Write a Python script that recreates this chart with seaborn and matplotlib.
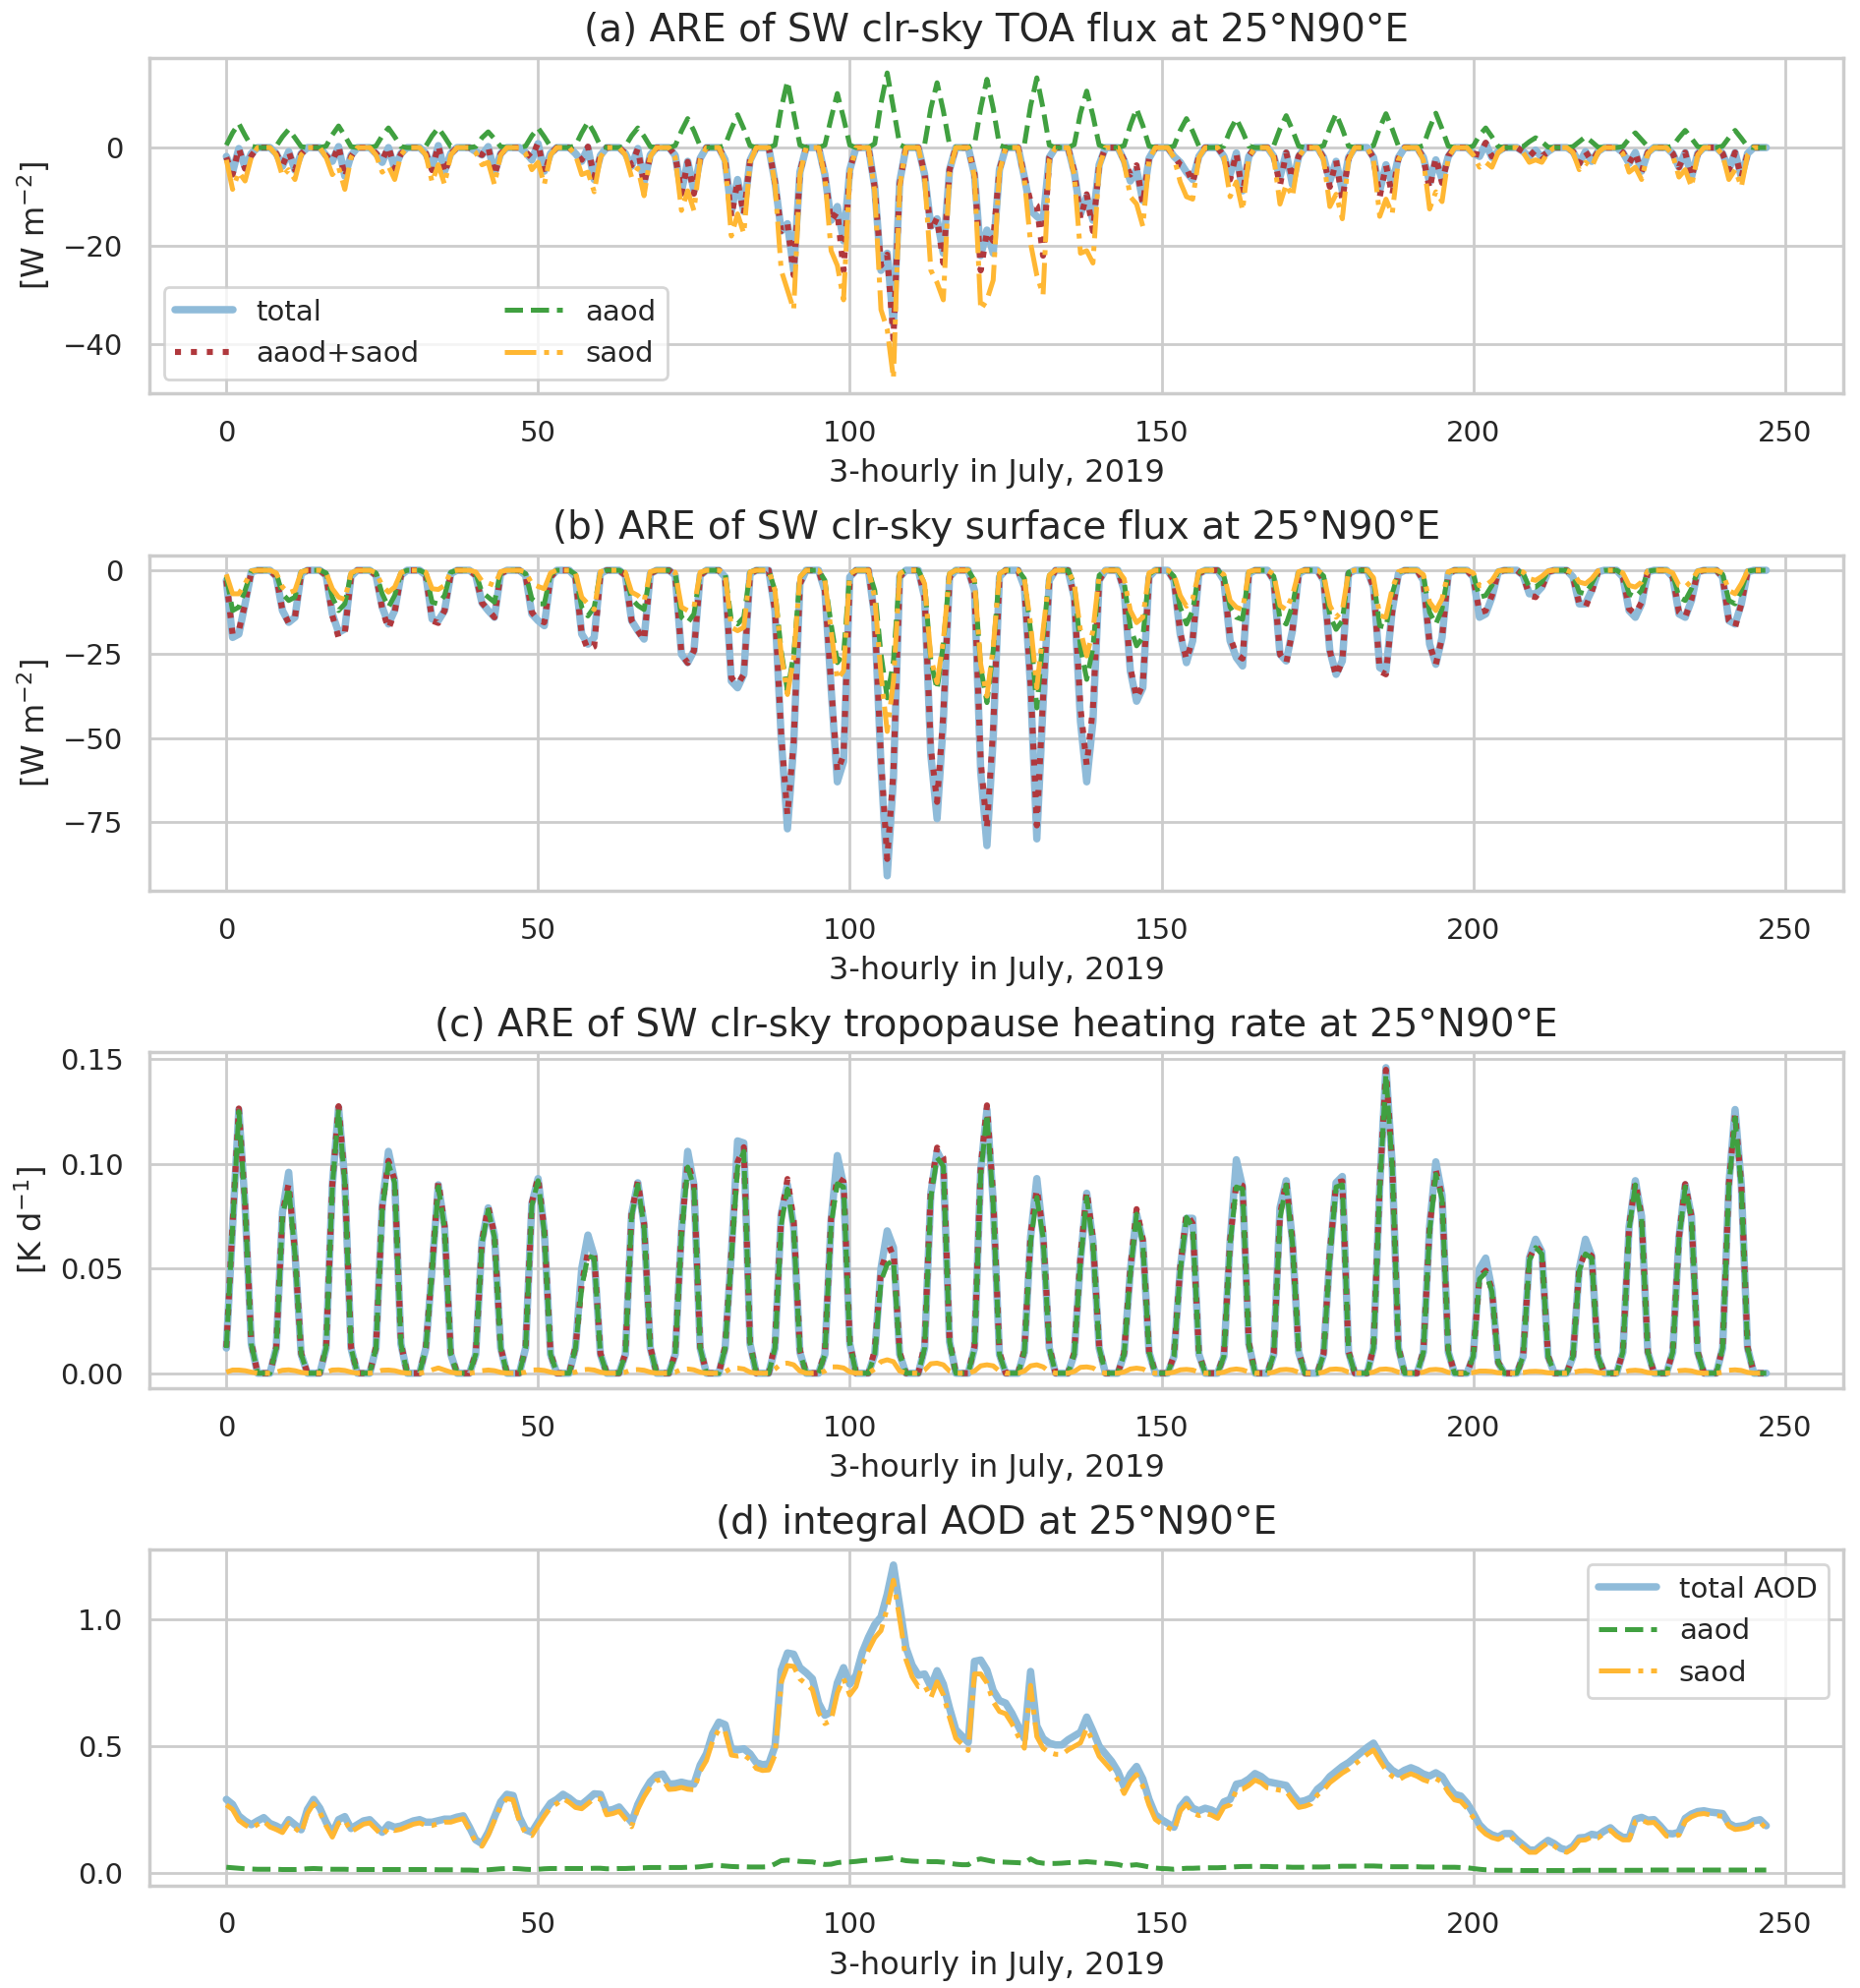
"""
Aerosol radiative effect (ARE) time series at 25N 90E, July 2019, 3-hourly
"""
import numpy as np
import matplotlib
matplotlib.use('Agg')
import matplotlib.pyplot as plt
import seaborn as sns

sns.set_theme(style='whitegrid')
plt.rcParams['font.family'] = ['DejaVu Sans']

# 3-hourly steps (31 days x 8)
hours = np.arange(248)

# ---- (a) TOA flux, W m-2, one row per day ----
toa_total = np.array([
    [-1.8, -5.0, -0.2, -4.0, -1.2, 0, 0, 0],
    [-1.2, -3.8, -0.8, -4.6, -1.2, 0, 0, 0],
    [-1.6, -2.8, 0.2, -5.8, -1.6, 0, 0, 0],
    [-1.2, -3.0, 0.0, -4.2, -1.2, 0, 0, 0],
    [-1.2, -4.2, 0.4, -4.8, -1.2, 0, 0, 0],
    [-0.8, -1.5, 0.2, -5.2, -1.2, 0, 0, 0],
    [-1.0, -2.5, 0.8, -4.8, -1.2, 0, 0, 0],
    [-1.2, -2.8, 0.0, -6.5, -1.6, 0, 0, 0],
    [-1.2, -3.8, -0.2, -7.0, -1.5, 0, 0, 0],
    [-1.6, -9.0, -2.8, -8.8, -2.2, 0, 0, 0],
    [-2.5, -13.0, -6.5, -13.0, -2.6, 0, 0, 0],
    [-7.0, -17.0, -15.5, -25.0, -5.0, 0, 0, 0],
    [-5.5, -14.8, -12.0, -19.0, -4.5, 0, 0, 0],
    [-8.0, -25.0, -21.5, -36.0, -7.0, 0, 0, 0],
    [-5.5, -16.0, -14.5, -21.5, -4.5, 0, 0, 0],
    [-5.5, -22.0, -16.8, -21.5, -4.5, 0, 0, 0],
    [-6.0, -12.8, -14.0, -15.0, -2.0, 0, 0, 0],
    [-5.0, -13.5, -10.0, -14.8, -3.5, 0, 0, 0],
    [-2.6, -6.8, -4.5, -10.8, -2.2, 0, 0, 0],
    [-1.8, -3.0, -5.0, -6.5, -1.8, 0, 0, 0],
    [-1.8, -5.5, -1.1, -8.8, -1.8, 0, 0, 0],
    [-1.8, -6.0, -1.1, -7.5, -1.8, 0, 0, 0],
    [-2.0, -6.8, -2.8, -8.8, -2.0, 0, 0, 0],
    [-2.0, -8.8, -3.5, -7.5, -2.0, 0, 0, 0],
    [-2.0, -7.0, -2.5, -6.5, -1.8, 0, 0, 0],
    [-1.2, -1.8, 0.8, -2.0, -0.8, 0, 0, 0],
    [-0.8, -1.8, -0.5, -2.0, -0.8, 0, 0, 0],
    [-0.8, -3.2, -0.8, -2.8, -0.8, 0, 0, 0],
    [-1.0, -3.2, -1.0, -4.8, -1.0, 0, 0, 0],
    [-1.2, -4.0, -1.0, -6.0, -1.2, 0, 0, 0],
    [-1.2, -4.5, -1.0, -6.0, -1.2, 0, 0, 0],
]).ravel()

toa_aaod = np.array([
    [0.5, 3.0, 4.9, 2.5, 0.3, 0, 0, 0],
    [0.3, 2.2, 3.7, 2.0, 0.2, 0, 0, 0],
    [0.3, 2.6, 4.4, 2.4, 0.2, 0, 0, 0],
    [0.3, 2.4, 4.0, 2.2, 0.2, 0, 0, 0],
    [0.3, 2.4, 4.0, 2.2, 0.2, 0, 0, 0],
    [0.2, 2.0, 3.2, 1.8, 0.2, 0, 0, 0],
    [0.3, 2.4, 4.0, 2.2, 0.2, 0, 0, 0],
    [0.4, 3.0, 5.2, 3.0, 0.3, 0, 0, 0],
    [0.3, 2.4, 4.0, 2.3, 0.2, 0, 0, 0],
    [0.4, 3.4, 5.9, 3.4, 0.3, 0, 0, 0],
    [0.5, 3.8, 6.7, 3.8, 0.4, 0, 0, 0],
    [0.5, 8.0, 13.5, 7.0, 0.5, 0, 0, 0],
    [0.5, 6.0, 11.0, 6.0, 0.5, 0, 0, 0],
    [0.8, 9.0, 15.2, 8.0, 0.6, 0, 0, 0],
    [0.6, 8.0, 13.2, 7.5, 0.5, 0, 0, 0],
    [0.6, 8.0, 13.9, 8.0, 0.5, 0, 0, 0],
    [0.6, 8.5, 14.2, 8.0, 0.5, 0, 0, 0],
    [0.6, 7.0, 11.5, 6.5, 0.5, 0, 0, 0],
    [0.4, 4.5, 7.9, 4.5, 0.3, 0, 0, 0],
    [0.3, 3.5, 5.9, 3.3, 0.3, 0, 0, 0],
    [0.3, 3.5, 5.9, 3.3, 0.3, 0, 0, 0],
    [0.4, 3.8, 6.5, 3.6, 0.3, 0, 0, 0],
    [0.4, 4.0, 6.9, 3.8, 0.3, 0, 0, 0],
    [0.4, 4.0, 6.9, 3.8, 0.3, 0, 0, 0],
    [0.4, 4.0, 7.0, 3.8, 0.3, 0, 0, 0],
    [0.3, 2.5, 4.0, 2.2, 0.2, 0, 0, 0],
    [0.2, 1.2, 2.0, 1.2, 0.1, 0, 0, 0],
    [0.2, 1.2, 2.2, 1.2, 0.1, 0, 0, 0],
    [0.2, 1.8, 3.0, 1.6, 0.2, 0, 0, 0],
    [0.3, 2.0, 3.5, 1.9, 0.2, 0, 0, 0],
    [0.3, 2.0, 3.5, 1.9, 0.2, 0, 0, 0],
]).ravel()

toa_saod = np.array([
    [-2.5, -8.5, -5.0, -6.8, -2.0, 0, 0, 0],
    [-1.5, -5.8, -4.5, -6.5, -1.5, 0, 0, 0],
    [-2.0, -5.5, -4.0, -8.5, -2.0, 0, 0, 0],
    [-1.5, -5.0, -3.8, -6.5, -1.5, 0, 0, 0],
    [-1.5, -7.0, -3.5, -7.5, -1.5, 0, 0, 0],
    [-1.0, -3.5, -3.0, -7.5, -1.5, 0, 0, 0],
    [-1.2, -4.5, -3.0, -7.5, -1.5, 0, 0, 0],
    [-1.5, -5.5, -5.0, -9.0, -2.0, 0, 0, 0],
    [-1.5, -6.0, -4.2, -9.8, -1.8, 0, 0, 0],
    [-2.0, -12.8, -8.8, -12.8, -2.5, 0, 0, 0],
    [-3.0, -18.0, -13.5, -17.5, -3.0, 0, 0, 0],
    [-7.5, -25.0, -29.0, -33.0, -5.5, 0, 0, 0],
    [-6.0, -21.0, -24.0, -31.0, -5.0, 0, 0, 0],
    [-9.0, -33.0, -37.0, -47.0, -8.0, 0, 0, 0],
    [-6.0, -25.0, -27.5, -31.0, -5.0, 0, 0, 0],
    [-6.0, -33.0, -31.0, -27.0, -5.0, 0, 0, 0],
    [-6.5, -19.5, -26.0, -30.0, -2.5, 0, 0, 0],
    [-5.5, -21.5, -21.0, -23.5, -4.0, 0, 0, 0],
    [-3.0, -10.0, -11.5, -16.0, -2.5, 0, 0, 0],
    [-2.0, -7.0, -10.0, -10.5, -2.0, 0, 0, 0],
    [-2.0, -10.0, -7.0, -12.8, -2.0, 0, 0, 0],
    [-2.0, -11.5, -7.5, -10.0, -2.0, 0, 0, 0],
    [-2.5, -12.0, -9.5, -14.5, -2.5, 0, 0, 0],
    [-2.5, -14.0, -10.5, -13.5, -2.5, 0, 0, 0],
    [-2.5, -12.5, -9.0, -11.0, -2.0, 0, 0, 0],
    [-1.5, -4.0, -3.0, -4.0, -1.0, 0, 0, 0],
    [-1.0, -3.0, -2.5, -3.0, -1.0, 0, 0, 0],
    [-1.0, -4.5, -3.0, -4.0, -1.0, 0, 0, 0],
    [-1.2, -5.0, -4.0, -6.5, -1.2, 0, 0, 0],
    [-1.5, -6.0, -4.5, -8.0, -1.5, 0, 0, 0],
    [-1.5, -6.5, -4.5, -8.0, -1.5, 0, 0, 0],
]).ravel()

# ---- (b) surface flux, W m-2 ----
sfc_total = np.array([
    [-3.0, -20.0, -19.0, -10.0, -0.5, 0, 0, 0],
    [-1.8, -12.0, -15.5, -14.0, -1.0, 0, 0, 0],
    [-1.5, -13.0, -18.5, -17.5, -1.8, 0, 0, 0],
    [-1.5, -11.0, -16.0, -12.0, -1.5, 0, 0, 0],
    [-1.5, -14.5, -15.0, -12.0, -1.0, 0, 0, 0],
    [-1.5, -9.7, -12.0, -14.0, -1.0, 0, 0, 0],
    [-1.5, -13.0, -15.0, -16.5, -2.0, 0, 0, 0],
    [-2.0, -19.0, -22.0, -20.0, -1.0, 0, 0, 0],
    [-1.5, -15.0, -18.0, -20.5, -1.0, 0, 0, 0],
    [-1.5, -25.0, -27.5, -24.0, -1.5, 0, 0, 0],
    [-2.0, -33.0, -35.0, -31.0, -1.0, 0, 0, 0],
    [-12.0, -50.0, -77.0, -52.0, -4.0, 0, 0, 0],
    [-6.0, -35.0, -63.0, -57.0, -2.0, 0, 0, 0],
    [-14.0, -58.0, -91.0, -62.0, -2.0, 0, 0, 0],
    [-8.0, -55.0, -74.0, -45.0, -2.0, 0, 0, 0],
    [-6.0, -60.0, -82.0, -50.0, -2.0, 0, 0, 0],
    [-5.0, -35.0, -80.0, -40.0, -3.0, 0, 0, 0],
    [-8.0, -45.0, -63.0, -45.0, -3.0, 0, 0, 0],
    [-6.0, -30.0, -39.0, -35.0, -2.0, 0, 0, 0],
    [-3.0, -19.0, -27.5, -21.0, -1.0, 0, 0, 0],
    [-3.0, -21.0, -26.0, -28.5, -1.0, 0, 0, 0],
    [-3.0, -25.0, -27.0, -18.0, -1.0, 0, 0, 0],
    [-3.0, -24.0, -31.0, -27.0, -1.0, 0, 0, 0],
    [-5.0, -29.0, -30.0, -12.0, -1.0, 0, 0, 0],
    [-3.0, -22.0, -28.0, -20.0, -1.0, 0, 0, 0],
    [-2.0, -14.0, -13.0, -8.0, -0.5, 0, 0, 0],
    [-1.5, -7.0, -7.0, -5.0, -0.5, 0, 0, 0],
    [-2.0, -10.0, -10.0, -6.0, -0.5, 0, 0, 0],
    [-2.0, -12.0, -14.0, -10.0, -0.5, 0, 0, 0],
    [-2.0, -13.0, -14.0, -9.0, -0.5, 0, 0, 0],
    [-2.0, -15.0, -16.0, -10.0, -0.5, 0, 0, 0],
]).ravel()

sfc_aaod = np.array([
    [-1.8, -12.0, -11.0, -6.0, -0.3, 0, 0, 0],
    [-1.0, -7.0, -9.0, -8.0, -0.5, 0, 0, 0],
    [-0.8, -8.0, -12.0, -10.0, -1.0, 0, 0, 0],
    [-0.8, -7.0, -11.0, -7.5, -0.8, 0, 0, 0],
    [-0.9, -9.5, -10.0, -7.5, -0.6, 0, 0, 0],
    [-1.0, -6.5, -8.0, -9.5, -0.6, 0, 0, 0],
    [-1.0, -8.5, -10.0, -10.0, -1.2, 0, 0, 0],
    [-1.2, -11.0, -13.6, -11.0, -0.6, 0, 0, 0],
    [-0.9, -8.5, -10.5, -11.7, -0.6, 0, 0, 0],
    [-0.9, -14.0, -15.6, -13.0, -0.9, 0, 0, 0],
    [-1.0, -15.0, -16.0, -14.0, -0.5, 0, 0, 0],
    [-6.0, -24.0, -36.0, -25.0, -2.0, 0, 0, 0],
    [-3.0, -16.0, -27.5, -25.0, -1.0, 0, 0, 0],
    [-6.0, -25.0, -38.0, -27.0, -1.0, 0, 0, 0],
    [-4.0, -27.0, -35.5, -22.0, -1.0, 0, 0, 0],
    [-3.0, -29.0, -39.4, -24.0, -1.0, 0, 0, 0],
    [-2.5, -18.0, -41.0, -20.0, -1.5, 0, 0, 0],
    [-4.0, -23.0, -32.5, -23.0, -1.5, 0, 0, 0],
    [-3.5, -17.0, -22.5, -20.0, -1.2, 0, 0, 0],
    [-1.8, -11.0, -16.0, -12.0, -0.6, 0, 0, 0],
    [-1.7, -11.0, -14.0, -14.6, -0.6, 0, 0, 0],
    [-1.8, -14.5, -16.0, -10.5, -0.6, 0, 0, 0],
    [-1.7, -13.5, -17.6, -15.0, -0.6, 0, 0, 0],
    [-2.8, -16.5, -17.0, -7.0, -0.6, 0, 0, 0],
    [-1.7, -12.5, -16.0, -11.5, -0.6, 0, 0, 0],
    [-1.2, -8.0, -7.5, -4.5, -0.3, 0, 0, 0],
    [-1.0, -5.0, -5.0, -3.5, -0.3, 0, 0, 0],
    [-1.2, -6.5, -7.0, -4.0, -0.3, 0, 0, 0],
    [-1.2, -7.0, -8.0, -6.0, -0.3, 0, 0, 0],
    [-1.2, -8.0, -9.0, -5.5, -0.3, 0, 0, 0],
    [-1.2, -9.0, -10.0, -6.0, -0.3, 0, 0, 0],
]).ravel()

sfc_saod = np.array([
    [-1.2, -7.0, -7.0, -4.0, -0.2, 0, 0, 0],
    [-0.8, -5.0, -6.7, -6.0, -0.5, 0, 0, 0],
    [-0.7, -5.5, -8.0, -8.7, -0.8, 0, 0, 0],
    [-0.7, -4.5, -6.5, -5.0, -0.7, 0, 0, 0],
    [-0.6, -5.5, -5.7, -4.5, -0.4, 0, 0, 0],
    [-0.5, -3.2, -3.8, -4.5, -0.4, 0, 0, 0],
    [-0.5, -4.0, -4.8, -5.5, -0.8, 0, 0, 0],
    [-0.8, -8.0, -10.0, -11.7, -0.4, 0, 0, 0],
    [-0.6, -6.5, -7.5, -9.2, -0.4, 0, 0, 0],
    [-0.6, -11.0, -12.0, -11.0, -0.6, 0, 0, 0],
    [-1.0, -17.0, -18.0, -17.0, -0.5, 0, 0, 0],
    [-6.0, -25.0, -37.0, -26.0, -2.0, 0, 0, 0],
    [-3.0, -18.0, -32.5, -30.0, -1.0, 0, 0, 0],
    [-8.0, -31.0, -48.0, -33.0, -1.0, 0, 0, 0],
    [-4.0, -26.0, -33.5, -21.0, -1.0, 0, 0, 0],
    [-3.0, -28.0, -37.5, -23.0, -1.0, 0, 0, 0],
    [-2.5, -16.0, -35.0, -18.0, -1.5, 0, 0, 0],
    [-4.0, -18.0, -25.5, -18.0, -1.5, 0, 0, 0],
    [-2.5, -12.0, -15.6, -14.0, -0.8, 0, 0, 0],
    [-1.2, -7.5, -10.7, -8.5, -0.4, 0, 0, 0],
    [-1.3, -9.0, -11.0, -11.7, -0.4, 0, 0, 0],
    [-1.2, -10.5, -11.7, -7.5, -0.4, 0, 0, 0],
    [-1.3, -10.5, -14.0, -12.0, -0.4, 0, 0, 0],
    [-2.2, -13.5, -14.0, -5.5, -0.4, 0, 0, 0],
    [-1.3, -9.5, -12.0, -8.5, -0.4, 0, 0, 0],
    [-0.8, -4.6, -4.5, -3.0, -0.2, 0, 0, 0],
    [-0.5, -2.5, -3.0, -1.8, -0.2, 0, 0, 0],
    [-0.8, -3.5, -4.0, -2.5, -0.2, 0, 0, 0],
    [-0.8, -4.5, -5.0, -3.5, -0.2, 0, 0, 0],
    [-0.8, -4.5, -5.0, -3.2, -0.2, 0, 0, 0],
    [-0.8, -6.0, -7.0, -4.0, -0.2, 0, 0, 0],
]).ravel()

# ---- (c) tropopause heating rate, K d-1 ----
hr_total = np.array([
    [0.012, 0.070, 0.126, 0.080, 0.014, 0, 0, 0],
    [0.012, 0.077, 0.096, 0.058, 0.009, 0, 0, 0],
    [0.012, 0.090, 0.127, 0.092, 0.012, 0, 0, 0],
    [0.012, 0.080, 0.106, 0.092, 0.014, 0, 0, 0],
    [0.012, 0.050, 0.090, 0.070, 0.009, 0, 0, 0],
    [0.009, 0.063, 0.079, 0.066, 0.012, 0, 0, 0],
    [0.012, 0.081, 0.093, 0.068, 0.009, 0, 0, 0],
    [0.012, 0.050, 0.066, 0.056, 0.009, 0, 0, 0],
    [0.009, 0.076, 0.091, 0.071, 0.012, 0, 0, 0],
    [0.009, 0.068, 0.106, 0.090, 0.012, 0, 0, 0],
    [0.012, 0.057, 0.111, 0.110, 0.014, 0, 0, 0],
    [0.012, 0.076, 0.090, 0.070, 0.010, 0, 0, 0],
    [0.009, 0.073, 0.104, 0.090, 0.014, 0, 0, 0],
    [0.009, 0.050, 0.068, 0.060, 0.009, 0, 0, 0],
    [0.012, 0.086, 0.106, 0.100, 0.015, 0, 0, 0],
    [0.012, 0.097, 0.126, 0.082, 0.009, 0, 0, 0],
    [0.010, 0.065, 0.093, 0.066, 0.012, 0, 0, 0],
    [0.009, 0.054, 0.086, 0.063, 0.012, 0, 0, 0],
    [0.009, 0.049, 0.076, 0.063, 0.010, 0, 0, 0],
    [0.008, 0.050, 0.074, 0.074, 0.009, 0, 0, 0],
    [0.008, 0.063, 0.102, 0.089, 0.014, 0, 0, 0],
    [0.009, 0.079, 0.092, 0.063, 0.010, 0, 0, 0],
    [0.009, 0.057, 0.091, 0.094, 0.010, 0, 0, 0],
    [0.012, 0.089, 0.146, 0.100, 0.012, 0, 0, 0],
    [0.010, 0.070, 0.101, 0.085, 0.010, 0, 0, 0],
    [0.008, 0.050, 0.055, 0.040, 0.005, 0, 0, 0],
    [0.008, 0.055, 0.064, 0.058, 0.008, 0, 0, 0],
    [0.008, 0.050, 0.064, 0.056, 0.008, 0, 0, 0],
    [0.010, 0.070, 0.092, 0.075, 0.010, 0, 0, 0],
    [0.010, 0.065, 0.090, 0.075, 0.010, 0, 0, 0],
    [0.012, 0.090, 0.126, 0.090, 0.012, 0, 0, 0],
]).ravel()

hr_aaod = np.array([
    [0.012, 0.070, 0.125, 0.080, 0.014, 0, 0, 0],
    [0.012, 0.075, 0.089, 0.057, 0.009, 0, 0, 0],
    [0.012, 0.089, 0.126, 0.091, 0.012, 0, 0, 0],
    [0.012, 0.078, 0.100, 0.091, 0.014, 0, 0, 0],
    [0.012, 0.049, 0.089, 0.069, 0.009, 0, 0, 0],
    [0.009, 0.062, 0.078, 0.065, 0.012, 0, 0, 0],
    [0.012, 0.080, 0.092, 0.067, 0.009, 0, 0, 0],
    [0.012, 0.041, 0.056, 0.055, 0.009, 0, 0, 0],
    [0.009, 0.075, 0.090, 0.070, 0.012, 0, 0, 0],
    [0.009, 0.066, 0.0985, 0.089, 0.012, 0, 0, 0],
    [0.012, 0.055, 0.0985, 0.106, 0.014, 0, 0, 0],
    [0.012, 0.071, 0.088, 0.069, 0.010, 0, 0, 0],
    [0.009, 0.071, 0.0905, 0.089, 0.014, 0, 0, 0],
    [0.009, 0.044, 0.052, 0.054, 0.009, 0, 0, 0],
    [0.012, 0.084, 0.103, 0.099, 0.015, 0, 0, 0],
    [0.012, 0.095, 0.124, 0.081, 0.009, 0, 0, 0],
    [0.010, 0.063, 0.084, 0.065, 0.012, 0, 0, 0],
    [0.009, 0.053, 0.084, 0.062, 0.012, 0, 0, 0],
    [0.009, 0.048, 0.076, 0.062, 0.010, 0, 0, 0],
    [0.008, 0.049, 0.0745, 0.070, 0.009, 0, 0, 0],
    [0.008, 0.062, 0.089, 0.088, 0.014, 0, 0, 0],
    [0.009, 0.074, 0.090, 0.062, 0.010, 0, 0, 0],
    [0.009, 0.056, 0.089, 0.090, 0.010, 0, 0, 0],
    [0.012, 0.088, 0.143, 0.099, 0.012, 0, 0, 0],
    [0.010, 0.068, 0.095, 0.083, 0.010, 0, 0, 0],
    [0.008, 0.045, 0.048, 0.039, 0.005, 0, 0, 0],
    [0.008, 0.054, 0.060, 0.057, 0.008, 0, 0, 0],
    [0.008, 0.049, 0.057, 0.055, 0.008, 0, 0, 0],
    [0.010, 0.069, 0.090, 0.074, 0.010, 0, 0, 0],
    [0.010, 0.064, 0.089, 0.074, 0.010, 0, 0, 0],
    [0.012, 0.089, 0.122, 0.089, 0.012, 0, 0, 0],
]).ravel()

hr_saod = np.array([
    [0.0005, 0.0015, 0.0015, 0.0012, 0.0005, 0, 0, 0],
    [0.0005, 0.0014, 0.0016, 0.0012, 0.0004, 0, 0, 0],
    [0.0005, 0.0015, 0.0016, 0.0013, 0.0005, 0, 0, 0],
    [0.0005, 0.0014, 0.0015, 0.0012, 0.0004, 0, 0, 0],
    [0.0005, 0.0016, 0.0025, 0.0015, 0.0005, 0, 0, 0],
    [0.0004, 0.0012, 0.0015, 0.0012, 0.0004, 0, 0, 0],
    [0.0005, 0.0015, 0.0016, 0.0013, 0.0005, 0, 0, 0],
    [0.0005, 0.0016, 0.0018, 0.0015, 0.0005, 0, 0, 0],
    [0.0005, 0.0016, 0.0017, 0.0014, 0.0005, 0, 0, 0],
    [0.0005, 0.0018, 0.0020, 0.0016, 0.0005, 0, 0, 0],
    [0.0006, 0.0024, 0.0024, 0.0020, 0.0005, 0, 0, 0],
    [0.0020, 0.0045, 0.0048, 0.0040, 0.0010, 0, 0, 0],
    [0.0010, 0.0030, 0.0030, 0.0025, 0.0006, 0, 0, 0],
    [0.0020, 0.0055, 0.0064, 0.0055, 0.0010, 0, 0, 0],
    [0.0015, 0.0045, 0.0048, 0.0040, 0.0010, 0, 0, 0],
    [0.0010, 0.0035, 0.0040, 0.0035, 0.0010, 0, 0, 0],
    [0.0010, 0.0035, 0.0040, 0.0030, 0.0008, 0, 0, 0],
    [0.0008, 0.0028, 0.0030, 0.0025, 0.0006, 0, 0, 0],
    [0.0006, 0.0020, 0.0024, 0.0020, 0.0005, 0, 0, 0],
    [0.0005, 0.0016, 0.0018, 0.0015, 0.0004, 0, 0, 0],
    [0.0005, 0.0016, 0.0020, 0.0016, 0.0005, 0, 0, 0],
    [0.0005, 0.0016, 0.0018, 0.0015, 0.0004, 0, 0, 0],
    [0.0005, 0.0018, 0.0020, 0.0017, 0.0005, 0, 0, 0],
    [0.0005, 0.0018, 0.0020, 0.0016, 0.0005, 0, 0, 0],
    [0.0005, 0.0016, 0.0018, 0.0015, 0.0004, 0, 0, 0],
    [0.0003, 0.0010, 0.0010, 0.0008, 0.0002, 0, 0, 0],
    [0.0003, 0.0008, 0.0009, 0.0007, 0.0002, 0, 0, 0],
    [0.0003, 0.0010, 0.0012, 0.0010, 0.0003, 0, 0, 0],
    [0.0003, 0.0012, 0.0014, 0.0011, 0.0003, 0, 0, 0],
    [0.0003, 0.0012, 0.0014, 0.0011, 0.0003, 0, 0, 0],
    [0.0004, 0.0014, 0.0016, 0.0013, 0.0004, 0, 0, 0],
]).ravel()

# ---- (d) integral AOD ----
aod_total = np.array([
    [0.29, 0.27, 0.225, 0.205, 0.19, 0.205, 0.218, 0.195],
    [0.185, 0.172, 0.21, 0.19, 0.17, 0.25, 0.29, 0.255],
    [0.2, 0.155, 0.21, 0.222, 0.175, 0.19, 0.205, 0.21],
    [0.185, 0.16, 0.19, 0.18, 0.185, 0.195, 0.205, 0.21],
    [0.2, 0.2, 0.206, 0.212, 0.212, 0.22, 0.225, 0.18],
    [0.13, 0.115, 0.16, 0.22, 0.28, 0.31, 0.305, 0.22],
    [0.17, 0.16, 0.2, 0.24, 0.275, 0.29, 0.31, 0.295],
    [0.275, 0.27, 0.29, 0.312, 0.31, 0.245, 0.25, 0.26],
    [0.23, 0.2, 0.27, 0.32, 0.36, 0.385, 0.39, 0.35],
    [0.352, 0.358, 0.352, 0.35, 0.425, 0.47, 0.55, 0.595],
    [0.585, 0.49, 0.485, 0.49, 0.47, 0.435, 0.427, 0.43],
    [0.5, 0.8, 0.868, 0.863, 0.81, 0.79, 0.766, 0.67],
    [0.622, 0.635, 0.75, 0.81, 0.745, 0.78, 0.87, 0.93],
    [0.98, 1.01, 1.1, 1.215, 1.055, 0.89, 0.82, 0.78],
    [0.785, 0.735, 0.798, 0.745, 0.65, 0.565, 0.54, 0.515],
    [0.835, 0.84, 0.8, 0.72, 0.68, 0.67, 0.63, 0.58],
    [0.53, 0.795, 0.58, 0.53, 0.512, 0.505, 0.505, 0.525],
    [0.54, 0.555, 0.615, 0.56, 0.5, 0.47, 0.44, 0.4],
    [0.34, 0.39, 0.42, 0.37, 0.29, 0.23, 0.21, 0.195],
    [0.18, 0.26, 0.29, 0.255, 0.245, 0.255, 0.248, 0.235],
    [0.28, 0.29, 0.35, 0.355, 0.37, 0.392, 0.38, 0.36],
    [0.355, 0.35, 0.345, 0.31, 0.28, 0.285, 0.295, 0.33],
    [0.35, 0.38, 0.4, 0.42, 0.435, 0.455, 0.475, 0.495],
    [0.512, 0.47, 0.43, 0.405, 0.39, 0.405, 0.415, 0.405],
    [0.39, 0.382, 0.395, 0.38, 0.34, 0.31, 0.303, 0.275],
    [0.235, 0.19, 0.165, 0.15, 0.142, 0.155, 0.155, 0.13],
    [0.11, 0.09, 0.09, 0.11, 0.128, 0.115, 0.097, 0.09],
    [0.105, 0.138, 0.14, 0.152, 0.148, 0.165, 0.178, 0.155],
    [0.14, 0.14, 0.212, 0.219, 0.208, 0.21, 0.185, 0.156],
    [0.154, 0.16, 0.215, 0.232, 0.242, 0.245, 0.24, 0.237],
    [0.234, 0.195, 0.182, 0.185, 0.19, 0.205, 0.21, 0.186],
]).ravel()

aod_aaod = np.array([
    [0.022, 0.020, 0.018, 0.016, 0.015, 0.014, 0.014, 0.014],
    [0.014, 0.013, 0.013, 0.013, 0.014, 0.016, 0.017, 0.016],
    [0.015, 0.014, 0.014, 0.014, 0.013, 0.013, 0.013, 0.013],
    [0.013, 0.013, 0.013, 0.013, 0.013, 0.013, 0.013, 0.013],
    [0.013, 0.013, 0.012, 0.012, 0.012, 0.012, 0.011, 0.011],
    [0.010, 0.010, 0.012, 0.014, 0.016, 0.017, 0.017, 0.016],
    [0.014, 0.013, 0.014, 0.016, 0.017, 0.017, 0.017, 0.017],
    [0.017, 0.017, 0.017, 0.018, 0.018, 0.016, 0.016, 0.017],
    [0.017, 0.018, 0.019, 0.020, 0.021, 0.021, 0.021, 0.021],
    [0.021, 0.021, 0.022, 0.022, 0.024, 0.027, 0.030, 0.029],
    [0.027, 0.025, 0.024, 0.024, 0.023, 0.023, 0.023, 0.024],
    [0.035, 0.048, 0.050, 0.048, 0.045, 0.044, 0.043, 0.038],
    [0.033, 0.034, 0.040, 0.043, 0.043, 0.045, 0.048, 0.050],
    [0.052, 0.054, 0.056, 0.060, 0.053, 0.048, 0.046, 0.045],
    [0.045, 0.044, 0.044, 0.042, 0.038, 0.034, 0.032, 0.032],
    [0.050, 0.055, 0.050, 0.045, 0.043, 0.042, 0.041, 0.040],
    [0.038, 0.055, 0.042, 0.038, 0.037, 0.037, 0.038, 0.040],
    [0.041, 0.042, 0.044, 0.042, 0.040, 0.038, 0.036, 0.033],
    [0.027, 0.030, 0.032, 0.028, 0.023, 0.019, 0.017, 0.016],
    [0.014, 0.016, 0.018, 0.018, 0.019, 0.020, 0.020, 0.020],
    [0.021, 0.022, 0.024, 0.025, 0.025, 0.026, 0.025, 0.025],
    [0.024, 0.024, 0.023, 0.022, 0.022, 0.022, 0.023, 0.023],
    [0.023, 0.024, 0.025, 0.026, 0.026, 0.026, 0.027, 0.027],
    [0.027, 0.026, 0.025, 0.024, 0.024, 0.024, 0.024, 0.024],
    [0.023, 0.023, 0.023, 0.022, 0.022, 0.022, 0.021, 0.020],
    [0.017, 0.014, 0.012, 0.011, 0.010, 0.010, 0.010, 0.010],
    [0.009, 0.009, 0.009, 0.009, 0.009, 0.009, 0.009, 0.009],
    [0.009, 0.010, 0.010, 0.010, 0.010, 0.010, 0.010, 0.010],
    [0.010, 0.010, 0.010, 0.010, 0.011, 0.011, 0.011, 0.011],
    [0.011, 0.011, 0.011, 0.011, 0.011, 0.011, 0.011, 0.011],
    [0.011, 0.011, 0.011, 0.011, 0.011, 0.011, 0.011, 0.011],
]).ravel()

# combined effect = sum of the two component effects; scattering AOD = total - absorbing
toa_sum = toa_aaod + toa_saod
sfc_sum = sfc_aaod + sfc_saod
hr_sum = hr_aaod + hr_saod
aod_saod = aod_total - aod_aaod

STYLE = {
    'total': dict(color='#8fbbd9', lw=2.7, ls='-'),
    'aaod+saod': dict(color='#b0383d', lw=2.2, ls=':'),
    'aaod': dict(color='#40a040', lw=1.8, ls='--'),
    'saod': dict(color='#ffb733', lw=1.8, ls='-.'),
}


def draw(ax, series, title, ylabel=None):
    for name, values in series:
        st = STYLE['total' if name == 'total AOD' else name]
        sns.lineplot(x=hours, y=values, ax=ax, label=name, color=st['color'],
                     linewidth=st['lw'], linestyle=st['ls'])
    ax.set_title(title, fontsize=14)
    ax.set_xlabel('3-hourly in July, 2019', fontsize=11.5)
    ax.set_ylabel(ylabel if ylabel else '', fontsize=11.5)
    ax.tick_params(labelsize=10.5)


fig, axes = plt.subplots(4, 1, figsize=(9.46, 10.11), dpi=200)
fig.subplots_adjust(left=0.0803, right=0.991, top=0.971, bottom=0.0514, hspace=0.48)

draw(axes[0], [('total', toa_total), ('aaod+saod', toa_sum), ('aaod', toa_aaod), ('saod', toa_saod)],
     '(a) ARE of SW clr-sky TOA flux at 25°N90°E', '[W m$^{-2}$]')
axes[0].legend(loc='lower left', ncol=2, fontsize=10.5, columnspacing=3.0)

draw(axes[1], [('total', sfc_total), ('aaod+saod', sfc_sum), ('aaod', sfc_aaod), ('saod', sfc_saod)],
     '(b) ARE of SW clr-sky surface flux at 25°N90°E', '[W m$^{-2}$]')
axes[1].get_legend().remove()

draw(axes[2], [('total', hr_total), ('aaod+saod', hr_sum), ('aaod', hr_aaod), ('saod', hr_saod)],
     '(c) ARE of SW clr-sky tropopause heating rate at 25°N90°E', '[K d$^{-1}$]')
axes[2].get_legend().remove()

draw(axes[3], [('total AOD', aod_total), ('aaod', aod_aaod), ('saod', aod_saod)],
     '(d) integral AOD at 25°N90°E')
axes[3].legend(loc='upper right', fontsize=10.5)

fig.savefig('out.png', dpi=200)
